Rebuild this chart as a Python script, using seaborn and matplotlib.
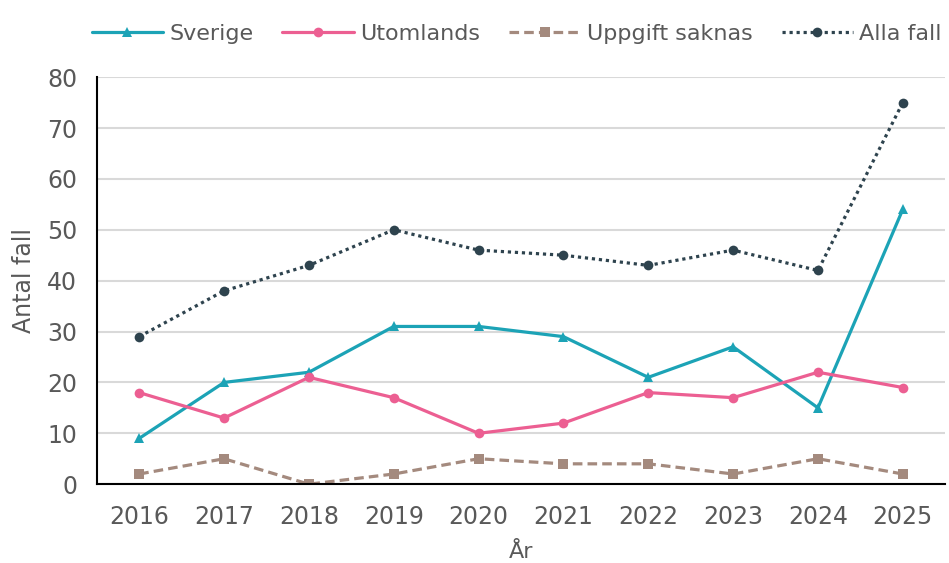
import numpy as np
import pandas as pd
import matplotlib
matplotlib.use("Agg")
import matplotlib.pyplot as plt
import seaborn as sns

# ------------------------------
# Data
# ------------------------------
years = ["2016", "2017", "2018", "2019", "2020", "2021", "2022", "2023", "2024", "2025"]
sverige = [9, 20, 22, 31, 31, 29, 21, 27, 15, 54]
utomlands = [18, 13, 21, 17, 10, 12, 18, 17, 22, 19]
uppgift_saknas = [2, 5, 0, 2, 5, 4, 4, 2, 5, 2]
alla_fall = [29, 38, 43, 50, 46, 45, 43, 46, 42, 75]

series_names = ["Sverige", "Utomlands", "Uppgift saknas", "Alla fall"]
series_values = [sverige, utomlands, uppgift_saknas, alla_fall]

rows = []
for name, vals in zip(series_names, series_values):
    for i, v in enumerate(vals):
        rows.append({"pos": i, "Serie": name, "Antal": v})
df = pd.DataFrame(rows)

# ------------------------------
# Styling
# ------------------------------
sns.set_theme(style="white")
plt.rcParams["font.family"] = ["DejaVu Sans"]

palette = {
    "Sverige": "#1CA3B6",
    "Utomlands": "#EC5F92",
    "Uppgift saknas": "#A48A7E",
    "Alla fall": "#2E434E",
}
markers = {"Sverige": "^", "Utomlands": "o", "Uppgift saknas": "s", "Alla fall": "o"}
dashes = {"Sverige": "", "Utomlands": "", "Uppgift saknas": (3, 1.6), "Alla fall": (1, 1.2)}

fig = plt.figure(figsize=(9.49, 5.63), dpi=100)
ax = fig.add_axes([0.102, 0.140, 0.894, 0.723])

sns.lineplot(data=df, x="pos", y="Antal", hue="Serie", style="Serie",
             palette=palette, markers=markers, dashes=dashes,
             hue_order=series_names, style_order=series_names,
             linewidth=2.3, markersize=7, markeredgewidth=0, ax=ax)

# Axes
ax.set_xlim(-0.5, len(years) - 0.5)
ax.set_ylim(0, 80)
ax.set_yticks(np.arange(0, 81, 10))
ax.set_xticks(np.arange(len(years)))
ax.set_xticklabels(years)
ax.set_xticks(np.arange(-0.5, len(years), 1), minor=True)
ax.tick_params(axis="x", which="major", length=0, labelsize=17, colors="#595959", pad=15)
ax.tick_params(axis="x", which="minor", length=8, width=1.5, color="black", direction="out")
ax.tick_params(axis="y", which="major", length=8, width=1.5, color="black",
               direction="out", labelsize=17, labelcolor="#595959", pad=6)

ax.yaxis.grid(True, color="#D9D9D9", linewidth=1.5)
ax.set_axisbelow(True)
for side in ["top", "right"]:
    ax.spines[side].set_visible(False)
for side in ["left", "bottom"]:
    ax.spines[side].set_color("black")
    ax.spines[side].set_linewidth(1.5)

ax.set_xlabel("År", fontsize=16, color="#595959", labelpad=9)
ax.set_ylabel("Antal fall", fontsize=17, color="#595959", labelpad=8)

leg = ax.legend(loc="lower center", bbox_to_anchor=(0.495, 1.06), ncol=4, frameon=False,
                fontsize=16, handlelength=3.2, handletextpad=0.3, columnspacing=1.3,
                labelcolor="#595959", borderaxespad=0)

fig.savefig("out.png", dpi=100)
